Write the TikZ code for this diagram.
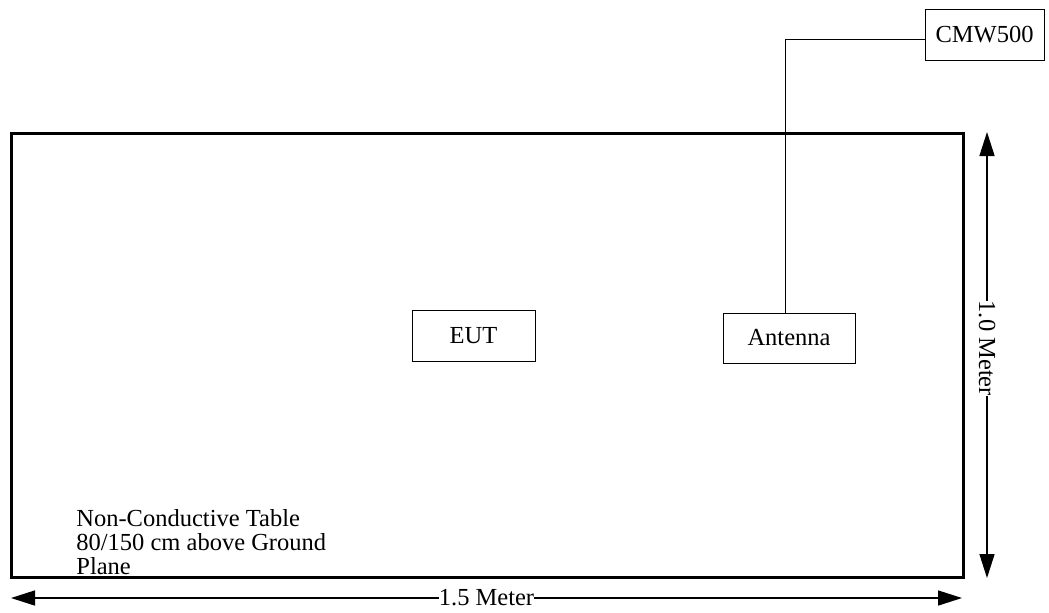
\documentclass[tikz,border=0pt]{standalone}
\usepackage{fontspec}
\setmainfont{Liberation Serif}
\usetikzlibrary{arrows.meta}
\begin{document}
\begin{tikzpicture}[x=0.5pt,y=-0.5pt,
  every node/.style={font=\fontsize{12.25}{12}\selectfont},
  box/.style={draw,line width=0.5pt,inner sep=0pt},
  dim/.style={line width=0.75pt,{Triangle[length=12pt,width=7.5pt]}-{Triangle[length=12pt,width=7.5pt]}},
  dimlabel/.style={fill=white,inner sep=0pt}]
\useasboundingbox (0,0) rectangle (1049,612);
% table
\draw[line width=1.5pt] (11,133) rectangle (963,577);
\node[anchor=north west,align=left,inner sep=0pt] (tabletext) at (76,509)
  {Non-Conductive Table\\80/150 cm above Ground\\Plane};
% boxes
\node[box,minimum width=61.5pt,minimum height=25.5pt] (eut) at (473.5,335.5) {EUT};
\node[box,minimum width=66pt,minimum height=25pt] (ant) at (789,338) {Antenna};
\node[box,minimum width=59.5pt,minimum height=25.5pt] (cmw) at (984.5,34.5) {CMW500};
% cable
\coordinate (bend) at (785,39);
\draw[line width=0.5pt] (ant.north -| bend) -- (bend) -- (bend -| cmw.west);
% dimensions
\coordinate (vtop) at (987,132);
\coordinate (vbot) at (987,578);
\coordinate (hleft) at (11,598);
\coordinate (hright) at (962,598);
\draw[dim] (vtop) -- node[dimlabel,rotate=-90,pos=0.494,xshift=-2pt] (vlabel) {1.0 Meter} (vbot);
\draw[dim] (hleft) -- node[dimlabel,pos=0.5] (hlabel) {1.5 Meter} (hright);
\end{tikzpicture}
\end{document}
